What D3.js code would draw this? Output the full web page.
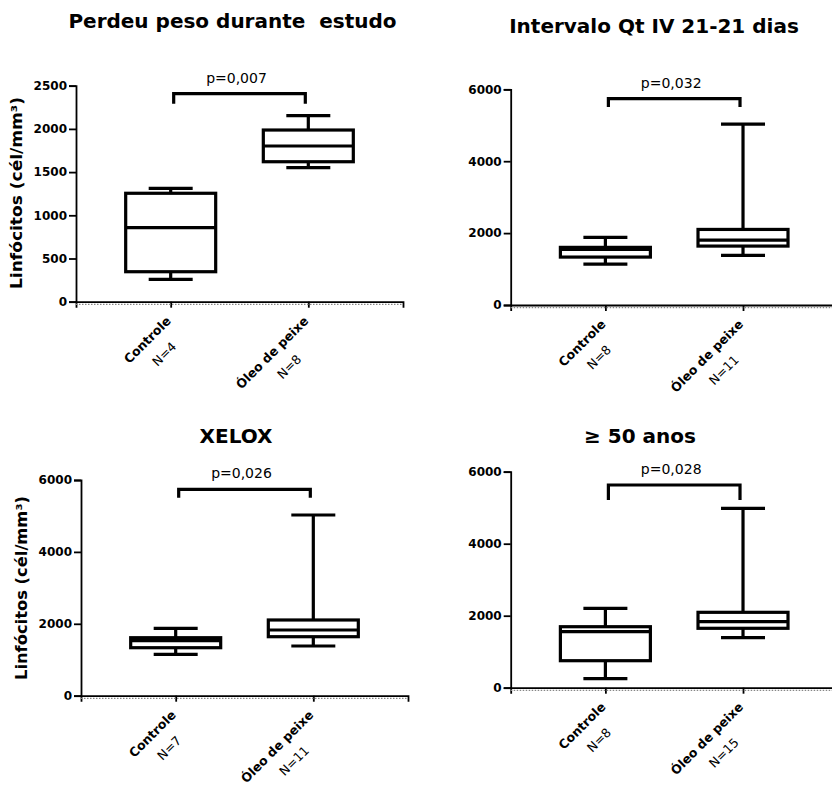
<!DOCTYPE html>
<html>
<head>
<meta charset="utf-8">
<script src="https://cdn.jsdelivr.net/npm/d3@7"></script>
<style>
  html, body { margin: 0; padding: 0; background: #fff; }
  svg { display: block; }
  text { font-family: "DejaVu Sans", Verdana, sans-serif; fill: #000; white-space: pre; }
</style>
</head>
<body>
<svg id="chart" width="832" height="788"></svg>
<script>
// Lymphocyte counts (cells/mm³) per group, four subgroups
const categories = ["Controle", "Óleo de peixe"];
const titles = ["Perdeu peso durante  estudo", "Intervalo Qt IV 21-21 dias", "XELOX", "≥ 50 anos"];
const pLabels = ["p=0,007", "p=0,032", "p=0,026", "p=0,028"];
const nLabels = [["N=4", "N=8"], ["N=8", "N=11"], ["N=7", "N=11"], ["N=8", "N=15"]];
const yMax = [2500, 6000, 6000, 6000];
const yTicks = [
  [0, 500, 1000, 1500, 2000, 2500],
  [0, 2000, 4000, 6000],
  [0, 2000, 4000, 6000],
  [0, 2000, 4000, 6000]
];
const yTitle = "Linfócitos (cél/mm³)";
// five-number summaries: [min, q1, median, q3, max]
const controleStats = [
  [259, 347, 857, 1255, 1312],
  [1139, 1333, 1547, 1603, 1880],
  [1152, 1335, 1530, 1613, 1875],
  [250, 750, 1556, 1694, 2205]
];
const oleoStats = [
  [1551, 1620, 1802, 1987, 2153],
  [1380, 1639, 1806, 2102, 5030],
  [1383, 1641, 1828, 2106, 5027],
  [1389, 1650, 1833, 2094, 4983]
];
// significance bracket: bar height and leg end (data units)
const bracketTop = [2408, 5741, 5742, 5630];
const bracketLeg = [2292, 5509, 5508, 5213];

// panel frames
const panels = [
  { x0: 76,    y0: 301.7, y1: 85.7,  title: [232.5, 28],  ylab: [17, 193], ylen: 192 },
  { x0: 510.7, y0: 305,   y1: 89.3,  title: [654, 33],    ylab: null },
  { x0: 81,    y0: 695.7, y1: 480,   title: [236, 443],   ylab: [22, 588], ylen: 184 },
  { x0: 510.7, y0: 687.7, y1: 471.7, title: [640, 443],   ylab: null }
];
const axisLen = 327;
const boxW = 90, capW = 44, lw = 3.2;

const svg = d3.select("#chart");

panels.forEach((p, i) => {
  const g = svg.append("g");
  const x = d3.scalePoint().domain(categories).range([p.x0, p.x0 + axisLen]).padding(0.688);
  const y = d3.scaleLinear().domain([0, yMax[i]]).range([p.y0, p.y1]);

  // title
  g.append("text")
    .attr("x", p.title[0]).attr("y", p.title[1])
    .attr("text-anchor", "middle")
    .style("font-size", "20px").style("font-weight", "bold")
    .text(titles[i]);

  // y axis
  const ya = g.append("g").attr("transform", `translate(${p.x0},0)`)
    .call(d3.axisLeft(y).tickValues(yTicks[i]).tickSizeOuter(0).tickSize(7).tickPadding(2).tickFormat(d3.format("d")));
  ya.select(".domain").attr("stroke", "#000").attr("stroke-width", 1.8);
  ya.selectAll(".tick line").attr("stroke", "#000").attr("stroke-width", 1.8);
  ya.selectAll(".tick text").style("font-size", "12px").style("font-weight", "bold")
    .style("font-family", "'DejaVu Sans', sans-serif");

  // x axis
  const xa = g.append("g").attr("transform", `translate(0,${p.y0})`)
    .call(d3.axisBottom(x).tickSizeOuter(0).tickSize(6).tickFormat(""));
  xa.select(".domain").attr("stroke", "#000").attr("stroke-width", 1.8);
  xa.selectAll(".tick line").attr("stroke", "#000").attr("stroke-width", 1.8);
  g.append("line")
    .attr("x1", p.x0).attr("x2", p.x0 + axisLen)
    .attr("y1", p.y0 + 2.6).attr("y2", p.y0 + 2.6)
    .attr("stroke", "#888").attr("stroke-width", 1.2).attr("stroke-dasharray", "1.5,1.5");

  // rotated category labels with group sizes
  categories.forEach((c, k) => {
    const lg = g.append("g")
      .attr("transform", `translate(${x(c) + 1},${p.y0 + 20}) rotate(-45)`);
    const t1 = lg.append("text")
      .style("font-size", "12.5px").style("font-weight", "bold")
      .attr("text-anchor", "middle").text(c);
    const w = t1.node().getComputedTextLength();
    t1.attr("x", -w / 2);
    lg.append("text")
      .style("font-size", "12.5px")
      .attr("text-anchor", "middle")
      .attr("x", -w / 2 + 2).attr("y", 22)
      .text(nLabels[i][k]);
  });

  // y-axis title
  if (p.ylab) {
    g.append("text")
      .attr("transform", `translate(${p.ylab[0]},${p.ylab[1]}) rotate(-90)`)
      .attr("text-anchor", "middle").attr("dy", "0.35em")
      .attr("textLength", p.ylen).attr("lengthAdjust", "spacingAndGlyphs")
      .style("font-size", "15px").style("font-weight", "bold")
      .text(yTitle);
  }

  // box plots
  [controleStats[i], oleoStats[i]].forEach((s, k) => {
    const cx = x(categories[k]);
    const [mn, q1, md, q3, mx] = s;
    const bg = g.append("g").attr("stroke", "#000").attr("stroke-width", lw).attr("fill", "none");
    bg.append("line").attr("x1", cx).attr("x2", cx).attr("y1", y(mx)).attr("y2", y(q3));
    bg.append("line").attr("x1", cx).attr("x2", cx).attr("y1", y(q1)).attr("y2", y(mn));
    bg.append("line").attr("x1", cx - capW / 2).attr("x2", cx + capW / 2).attr("y1", y(mx)).attr("y2", y(mx));
    bg.append("line").attr("x1", cx - capW / 2).attr("x2", cx + capW / 2).attr("y1", y(mn)).attr("y2", y(mn));
    bg.append("rect").attr("x", cx - boxW / 2).attr("width", boxW)
      .attr("y", y(q3)).attr("height", y(q1) - y(q3)).attr("fill", "#fff");
    bg.append("line").attr("x1", cx - boxW / 2).attr("x2", cx + boxW / 2).attr("y1", y(md)).attr("y2", y(md));
  });

  // significance bracket
  const xa1 = x(categories[0]) + 3, xa2 = x(categories[1]) - 3;
  const yb = y(bracketTop[i]), yl = y(bracketLeg[i]);
  g.append("path")
    .attr("d", `M${xa1},${yl}V${yb}H${xa2}V${yl}`)
    .attr("fill", "none").attr("stroke", "#000").attr("stroke-width", lw);
  g.append("text")
    .attr("x", (xa1 + xa2) / 2 - 3).attr("y", yb - 11)
    .attr("text-anchor", "middle")
    .style("font-size", "14px")
    .text(pLabels[i]);
});
</script>
</body>
</html>
